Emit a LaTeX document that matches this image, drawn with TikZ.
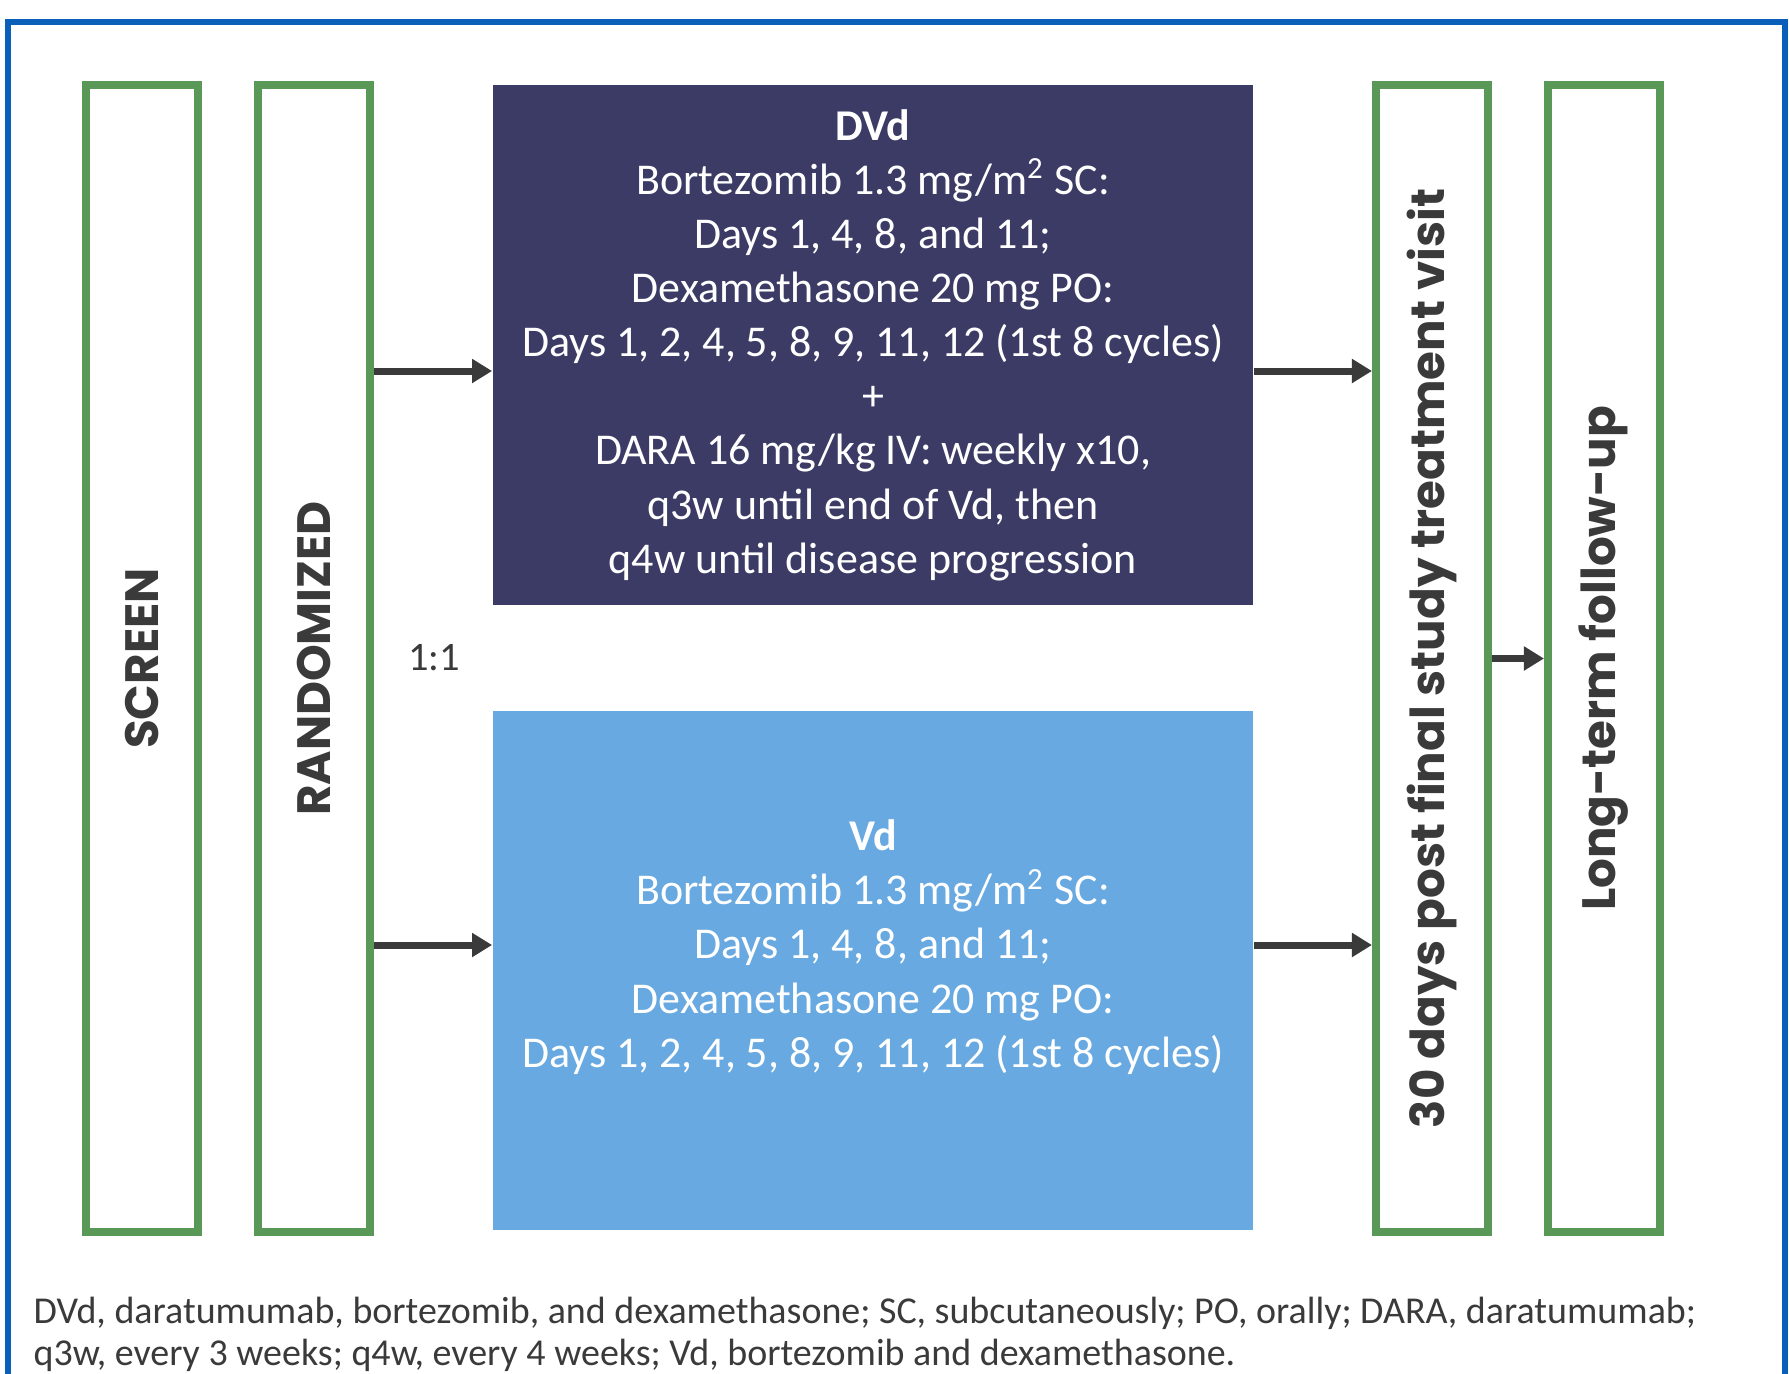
\documentclass[tikz,border=0pt]{standalone}
\usepackage{fontspec}
\setmainfont{Carlito}
\newfontfamily\stagefont{Poppins}
\usetikzlibrary{arrows.meta}
\definecolor{frameblue}{HTML}{0A60B8}
\definecolor{stagegreen}{HTML}{5A9858}
\definecolor{dvdnavy}{HTML}{3B3B66}
\definecolor{vdblue}{HTML}{67A9E0}
\definecolor{inkgray}{HTML}{3A3A3A}
\tikzset{
  stage/.style={draw=stagegreen, line width=0.08cm, minimum width=1.12cm, minimum height=11.47cm, inner sep=0pt, text=inkgray, font=\stagefont\bfseries\fontsize{13.3}{16}\selectfont},
  arm/.style={minimum width=7.6cm, inner sep=0pt, text=white, align=center, font=\fontsize{12.5}{15.4}\selectfont},
  flow/.style={draw=inkgray, line width=0.07cm, -{Triangle[length=0.2cm,width=0.23cm]}}
}

\begin{document}
\begin{tikzpicture}[x=0.01cm, y=-0.01cm]
    \useasboundingbox (0,0) rectangle (1789,1373);
    \draw[frameblue, line width=0.06cm] (8,22) rectangle (1785,1420);
    \node[stage] (screen) at (142,658.5) {\rotatebox{90}{SCREEN}};
    \node[stage] (rand) at (314,658.5) {\rotatebox{90}{RANDOMIZED}};
    \node[arm, fill=dvdnavy, minimum height=5.2cm] (dvd) at (873,345) {\textbf{DVd}\\Bortezomib 1.3 mg/m\textsuperscript{2} SC:\\Days 1, 4, 8, and 11;\\Dexamethasone 20 mg PO:\\Days 1, 2, 4, 5, 8, 9, 11, 12 (1st 8 cycles)\\+\\DARA 16 mg/kg IV: weekly x10,\\q3w until end of Vd, then\\q4w until disease progression};
    \node[arm, fill=vdblue, minimum height=5.19cm] (vd) at (873,970.5) {\textbf{Vd}\\Bortezomib 1.3 mg/m\textsuperscript{2} SC:\\Days 1, 4, 8, and 11;\\Dexamethasone 20 mg PO:\\Days 1, 2, 4, 5, 8, 9, 11, 12 (1st 8 cycles)\\~};
    \node[stage] (visit) at (1432,658.5) {\rotatebox{90}{30 days post final study treatment visit}};
    \node[stage] (follow) at (1604,658.5) {\rotatebox{90}{Long-term follow-up}};
    \node[text=inkgray, font=\fontsize{11.5}{14}\selectfont] (ratio) at (434,658) {1:1};
    \coordinate (upper) at (0,371);
    \coordinate (lower) at (0,945);
    \draw[flow] (rand.east |- upper) -- (dvd.west |- upper);
    \draw[flow] (rand.east |- lower) -- (vd.west |- lower);
    \draw[flow] (dvd.east |- upper) -- (visit.west |- upper);
    \draw[flow] (vd.east |- lower) -- (visit.west |- lower);
    \draw[flow] (visit.east) -- (follow.west);
    \node[anchor=north west, inner sep=0pt, align=left, text=inkgray, font=\fontsize{10.8}{12}\selectfont] (note) at (33,1296) {DVd, daratumumab, bortezomib, and dexamethasone; SC, subcutaneously; PO, orally; DARA, daratumumab;\\q3w, every 3 weeks; q4w, every 4 weeks; Vd, bortezomib and dexamethasone.};
\end{tikzpicture}
\end{document}
